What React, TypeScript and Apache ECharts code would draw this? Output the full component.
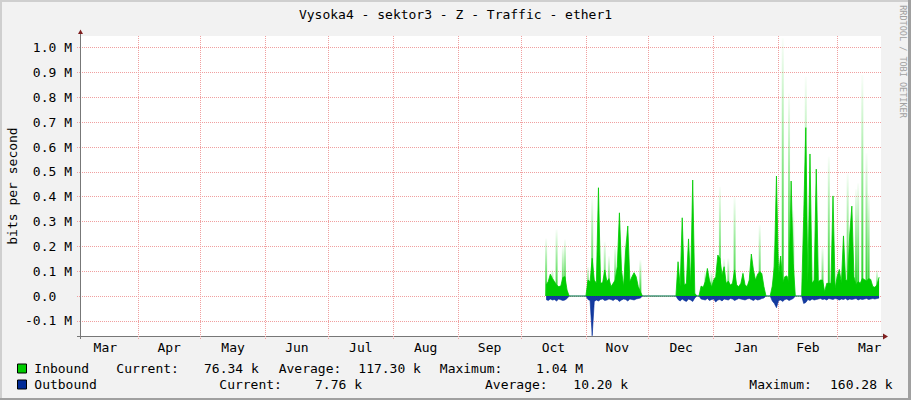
import React, { useEffect, useRef } from "react";
import * as echarts from "echarts";

// daily samples start here (local time)
const seriesStart = [2018, 9, 13];

// inbound traffic, k bits/s, one value per day from Oct 13
const inboundK = [
  // Oct 13 - Oct 23
  44, 58, 88, 71, 58, 44, 38, 40, 75, 78, 24,
  // gap
  0, 0, 0, 0, 0, 0, 0, 0, 0,
  // Nov 2 - Nov 27
  64, 58, 152, 64, 51, 436, 51, 54, 105, 58, 70, 38, 51, 64, 120, 335, 105, 38,
  185, 282, 58, 78, 94, 78, 38, 17,
  // gap
  0, 0, 0, 0, 0, 0, 0, 0, 0, 0, 0, 0, 0, 0, 0, 0, 0,
  // Dec 15 - Dec 23
  138, 38, 315, 44, 51, 230, 44, 467, 11,
  0, 0,
  // Dec 26 - Jan 25
  40, 35, 58, 111, 64, 35, 64, 78, 165, 152, 85, 118, 51, 60, 44, 51, 105, 44,
  38, 51, 91, 44, 38, 64, 169, 105, 64, 88, 98, 91, 38,
  0, 0, 0,
  // Jan 29 - Feb 8
  40, 120, 483, 78, 161, 51, 78, 81, 51, 463, 132,
  0, 0, 0, 0,
  // Feb 13 - Mar 21
  320, 678, 51, 572, 51, 64, 511, 58, 64, 64, 17, 51, 51, 51, 403, 31, 78, 107,
  51, 242, 67, 60, 250, 362, 78, 44, 58, 51, 71, 67, 60, 70, 67, 38, 35, 45, 76,
];

// outbound traffic, k bits/s, drawn below zero
const outboundK = [
  14, 18, 12, 16, 14, 20, 12, 15, 18, 16, 10,
  0, 0, 0, 0, 0, 0, 0, 0, 0,
  14, 18, 160, 22, 16, 20, 14, 12, 18, 16, 12, 14, 18, 12, 14, 22, 16, 12, 14,
  20, 12, 14, 16, 12, 10, 8,
  0, 0, 0, 0, 0, 0, 0, 0, 0, 0, 0, 0, 0, 0, 0, 0, 0,
  14, 20, 12, 18, 22, 12, 16, 22, 8,
  0, 0,
  12, 14, 16, 10, 18, 14, 12, 24, 16, 14, 20, 12, 14, 16, 10, 12, 18, 14, 10,
  12, 14, 16, 12, 10, 14, 18, 12, 16, 14, 10, 8,
  0, 0, 0,
  20, 30, 47, 18, 16, 22, 14, 12, 18, 14, 10,
  0, 0, 0, 0,
  30, 26, 14, 18, 12, 16, 14, 12, 10, 14, 12, 16, 10, 12, 14, 10, 12, 16, 12,
  14, 10, 16, 12, 14, 12, 10, 16, 12, 14, 12, 10, 14, 12, 10, 12, 10, 8,
];

// short inbound bursts that only partly fill a pixel (faded tops)
const inboundPeaks: [string, number][] = [
  ["2018-10-13", 232], ["2018-10-16", 107], ["2018-10-18", 268],
  ["2018-10-21", 199], ["2018-10-22", 228], ["2018-11-02", 118],
  ["2018-11-04", 393], ["2018-11-10", 219], ["2018-11-12", 161],
  ["2018-11-15", 199], ["2018-11-20", 228], ["2018-11-27", 145],
  ["2018-12-28", 98], ["2018-12-31", 98], ["2019-01-04", 440],
  ["2019-01-06", 150], ["2019-01-08", 152], ["2019-01-11", 400],
  ["2019-01-15", 98], ["2019-01-23", 286], ["2019-01-30", 200],
  ["2019-02-01", 160], ["2019-02-03", 1038], ["2019-02-06", 816],
  ["2019-02-08", 346], ["2019-02-14", 883], ["2019-02-22", 199],
  ["2019-02-25", 561], ["2019-03-01", 105], ["2019-03-06", 494],
  ["2019-03-10", 430], ["2019-03-11", 454], ["2019-03-13", 890],
  ["2019-03-15", 575], ["2019-03-16", 413], ["2019-03-20", 105],
];

const monthNames = ["Jan", "Feb", "Mar", "Apr", "May", "Jun", "Jul", "Aug", "Sep", "Oct", "Nov", "Dec"];
const yTicks = [-100, 0, 100, 200, 300, 400, 500, 600, 700, 800, 900, 1000];

const legendRows = [
  { name: "Inbound", color: "#00cc00", y: 368.5, parts: [["Current:", 116.3], ["76.34 k", 204], ["Average:", 278.7], ["117.30 k", 358.3], ["Maximum:", 439.8], ["1.04 M", 536]] },
  { name: "Outbound", color: "#002a97", y: 384.5, parts: [["Current:", 219.3], ["7.76 k", 315], ["Average:", 485], ["10.20 k", 573.3], ["Maximum:", 749.3], ["160.28 k", 830]] },
];

const MONO = '"DejaVu Sans Mono", monospace';
const GRID_RED = "#f0a0a0";

const localDate = (s: string) => {
  const [y, m, d] = s.split("-").map(Number);
  return new Date(y, m - 1, d).getTime();
};

const App: React.FC = () => {
  const chartRef = useRef<HTMLDivElement>(null);

  useEffect(() => {
    document.body.style.margin = "0";
    if (!chartRef.current) return;
    const chart = echarts.init(chartRef.current, null, { renderer: "svg" });

    const [sy, sm, sd] = seriesStart;
    const dayTs = (i: number) => new Date(sy, sm, sd + i).getTime();
    const inData = inboundK.map((v, i) => [dayTs(i), v]);
    const outData = outboundK.map((v, i) => [dayTs(i), -v]);
    const peakData = inboundPeaks.map(([d, v]) => [localDate(d), v]);

    const xMin = new Date(2018, 2, 4, 10).getTime();
    const xMax = new Date(2019, 2, 21, 22).getTime();
    const monthStarts: number[] = [];
    const monthMids: number[] = [];
    for (let k = 0; k < 13; k++) {
      const a = new Date(2018, 2 + k, 1).getTime();
      const b = new Date(2018, 3 + k, 1).getTime();
      if (k > 0) monthStarts.push(a);
      monthMids.push((a + b) / 2);
    }

    const legendGraphics: any[] = [];
    legendRows.forEach((row) => {
      legendGraphics.push({
        type: "rect",
        shape: { x: 17.5, y: row.y - 4.5, width: 9, height: 9 },
        style: { fill: row.color, stroke: "#000", lineWidth: 1 },
      });
      legendGraphics.push({
        type: "text",
        x: 34.3,
        y: row.y,
        style: { text: row.name, font: `13px ${MONO}`, fill: "#000", verticalAlign: "middle", textVerticalAlign: "middle" },
      });
      row.parts.forEach(([t, x]) => {
        legendGraphics.push({
          type: "text",
          x: x as number,
          y: row.y,
          style: { text: t as string, font: `13px ${MONO}`, fill: "#000", verticalAlign: "middle", textVerticalAlign: "middle" },
        });
      });
    });

    const option: any = {
      animation: false,
      backgroundColor: "#f2f2f2",
      grid: {
        left: 80,
        right: 30,
        top: 36,
        bottom: 64,
        show: true,
        backgroundColor: "#ffffff",
        borderWidth: 0,
        outerBoundsMode: "none",
      },
      xAxis: {
        type: "value",
        min: xMin,
        max: xMax,
        axisLine: { show: true, onZero: false, lineStyle: { color: "#777", width: 1 } },
        axisTick: { show: true, length: 3, customValues: monthStarts, lineStyle: { color: GRID_RED, type: [1, 1] } },
        axisLabel: {
          customValues: monthMids,
          formatter: (v: number) => monthNames[new Date(v).getMonth()],
          fontFamily: MONO,
          fontSize: 13,
          color: "#000",
          margin: 5,
          hideOverlap: false,
        },
        splitLine: { show: true, lineStyle: { color: GRID_RED, type: [1, 1], width: 1 } },
      },
      yAxis: {
        type: "value",
        min: -161,
        max: 1047,
        axisLine: { show: true, lineStyle: { color: "#777", width: 1 } },
        axisTick: { show: true, length: 3, customValues: yTicks, lineStyle: { color: GRID_RED, type: [1, 1] } },
        axisLabel: {
          customValues: yTicks,
          formatter: (v: number) => (v === 0 ? "0.0\u00a0\u00a0" : `${(v / 1000).toFixed(1)} M`),
          fontFamily: MONO,
          fontSize: 13,
          color: "#000",
          margin: 8,
          align: "right",
        },
        splitLine: { show: true, lineStyle: { color: GRID_RED, type: [1, 1], width: 1 } },
      },
      series: [
        {
          name: "InboundPeaks",
          type: "bar",
          data: peakData,
          barWidth: 2,
          silent: true,
          itemStyle: {
            color: new echarts.graphic.LinearGradient(0, 0, 0, 1, [
              { offset: 0, color: "rgba(0,204,0,0.02)" },
              { offset: 1, color: "rgba(0,204,0,0.9)" },
            ]),
          },
        },
        {
          name: "Inbound",
          type: "line",
          data: inData,
          symbol: "none",
          silent: true,
          lineStyle: { color: "#00cc00", width: 0.8 },
          areaStyle: { color: "#00cc00", opacity: 1 },
        },
        {
          name: "Outbound",
          type: "line",
          data: outData,
          symbol: "none",
          silent: true,
          lineStyle: { color: "#002a97", width: 0.6 },
          areaStyle: { color: "#002a97", opacity: 0.92 },
        },
      ],
      graphic: [
        { type: "rect", shape: { x: 0, y: 0, width: 911, height: 2 }, style: { fill: "#cfcfcf" } },
        { type: "rect", shape: { x: 0, y: 0, width: 2, height: 400 }, style: { fill: "#cfcfcf" } },
        { type: "rect", shape: { x: 908, y: 0, width: 3, height: 400 }, style: { fill: "#a0a0a0" } },
        { type: "rect", shape: { x: 0, y: 398, width: 911, height: 2 }, style: { fill: "#a0a0a0" } },
        {
          type: "text",
          x: 455.5,
          y: 14.5,
          style: {
            text: "Vysoka4 - sektor3 - Z - Traffic - ether1",
            font: `13px ${MONO}`,
            fill: "#000",
            align: "center",
            textAlign: "center",
            verticalAlign: "middle",
            textVerticalAlign: "middle",
          },
        },
        {
          type: "text",
          x: 12.5,
          y: 186,
          rotation: Math.PI / 2,
          style: {
            text: "bits per second",
            font: `13px ${MONO}`,
            fill: "#000",
            align: "center",
            textAlign: "center",
            verticalAlign: "middle",
            textVerticalAlign: "middle",
          },
        },
        {
          type: "text",
          x: 903,
          y: 61.5,
          rotation: -Math.PI / 2,
          style: {
            text: "RRDTOOL / TOBI OETIKER",
            font: `8.5px ${MONO}`,
            fill: "#a0a0a0",
            align: "center",
            textAlign: "center",
            verticalAlign: "middle",
            textVerticalAlign: "middle",
          },
        },
        // axis line overhangs and arrow heads
        { type: "line", shape: { x1: 80.5, y1: 336, x2: 80.5, y2: 339 }, style: { stroke: "#777", lineWidth: 1 } },
        { type: "line", shape: { x1: 80.5, y1: 33, x2: 80.5, y2: 36 }, style: { stroke: "#777", lineWidth: 1 } },
        { type: "line", shape: { x1: 77, y1: 336.5, x2: 80, y2: 336.5 }, style: { stroke: "#777", lineWidth: 1 } },
        { type: "line", shape: { x1: 881, y1: 336.5, x2: 884, y2: 336.5 }, style: { stroke: "#777", lineWidth: 1 } },
        { type: "polygon", shape: { points: [[78, 34], [83, 34], [80.5, 29.5]] }, style: { fill: "#7f1f1f" } },
        { type: "polygon", shape: { points: [[883, 333.5], [883, 339.5], [888, 336.5]] }, style: { fill: "#7f1f1f" } },
        ...legendGraphics,
      ],
    };

    chart.setOption(option);

    return () => {
      chart.dispose();
    };
  }, []);

  return <div ref={chartRef} style={{ width: "911px", height: "400px" }} />;
};

export default App;
